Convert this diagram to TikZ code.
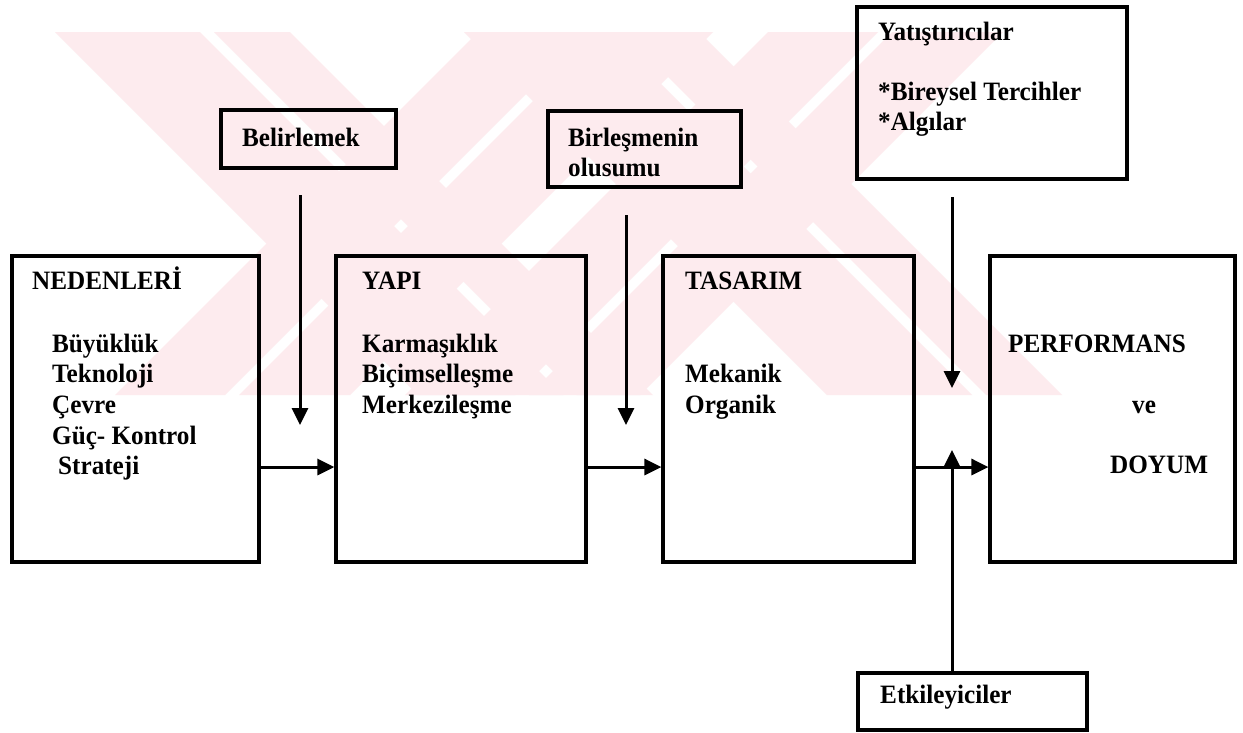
\documentclass[tikz,border=0pt]{standalone}
\usepackage{fontspec}
\setmainfont{Liberation Serif}[FakeStretch=0.95]
\usetikzlibrary{arrows.meta}
\definecolor{wmpink}{RGB}{253,235,238}
\tikzset{
  panel/.style={draw=black, line width=3.2pt, rectangle, inner sep=0pt},
  lbl/.style={anchor=base west, inner sep=0pt, font=\fontsize{26.5}{30}\selectfont\bfseries},
  flow/.style={line width=3pt, -{Triangle[length=17pt,width=16pt]}},
  band/.style={fill=wmpink, draw=none},
}
\begin{document}
\begin{tikzpicture}[x=1pt,y=-1pt]
\useasboundingbox (0,0) rectangle (1243,732);
\fill[white] (0,0) rectangle (1243,732);

% faint striped background mark
\fill[band] (55,32) -- (200,32) -- (563,395) -- (418,395) -- cycle;
\fill[band] (214,32) -- (290,32) -- (653,395) -- (577,395) -- cycle;
\fill[band] (478,32) -- (588,32) -- (225,395) -- (115,395) -- cycle;
\fill[band] (602,32) -- (713,32) -- (350,395) -- (239,395) -- cycle;
\fill[band] (464,32) -- (609,32) -- (972,395) -- (827,395) -- cycle;
\fill[band] (623,32) -- (699,32) -- (1062,395) -- (986,395) -- cycle;
\fill[band] (768,32) -- (878,32) -- (515,395) -- (405,395) -- cycle;
\fill[band] (892,32) -- (1003,32) -- (640,395) -- (529,395) -- cycle;

% main chain of boxes
\node[panel, minimum width=247pt, minimum height=306pt] (ned)  at (135.5,409) {};
\node[panel, minimum width=250pt, minimum height=306pt] (yapi) at (461,409) {};
\node[panel, minimum width=251pt, minimum height=306pt] (tas)  at (788.5,409) {};
\node[panel, minimum width=245pt, minimum height=306pt] (perf) at (1112.5,409) {};

% side boxes
\node[panel, minimum width=175pt, minimum height=58pt]  (bel) at (308.5,139) {};
\node[panel, minimum width=193pt, minimum height=76pt]  (bir) at (644.5,149) {};
\node[panel, minimum width=270pt, minimum height=172pt] (yat) at (992,93) {};
\node[panel, minimum width=229pt, minimum height=57pt]  (etk) at (972.5,701.5) {};

% texts
\node[lbl] (t-ned)  at (32,289)  {NEDENLER\.I};
\node[lbl] (t-ned1) at (52,352)  {Büyüklük};
\node[lbl] (t-ned2) at (52,382.5) {Teknoloji};
\node[lbl] (t-ned3) at (52,413)  {Çevre};
\node[lbl] (t-ned4) at (52,444)  {Güç- Kontrol};
\node[lbl] (t-ned5) at (58,474)  {Strateji};

\node[lbl] (t-yapi)  at (362,289) {YAPI};
\node[lbl] (t-yapi1) at (362,352) {Karmaşıklık};
\node[lbl] (t-yapi2) at (362,382.5) {Biçimselleşme};
\node[lbl] (t-yapi3) at (362,413) {Merkezileşme};

\node[lbl] (t-tas)  at (685,289) {TASARIM};
\node[lbl] (t-tas1) at (685,382.5) {Mekanik};
\node[lbl] (t-tas2) at (685,413) {Organik};

\node[lbl] (t-perf1) at (1008,352) {PERFORMANS};
\node[lbl] (t-perf2) at (1132,413) {ve};
\node[lbl] (t-perf3) at (1110,473) {DOYUM};

\node[lbl] (t-bel)  at (242,146) {Belirlemek};
\node[lbl] (t-bir1) at (568,146) {Birleşmenin};
\node[lbl] (t-bir2) at (568,176) {olusumu};

\node[lbl] (t-yat1) at (878,40)  {Yatıştırıcılar};
\node[lbl] (t-yat2) at (878,100) {*Bireysel Tercihler};
\node[lbl] (t-yat3) at (878,130) {*Algılar};

\node[lbl] (t-etk) at (880,703) {Etkileyiciler};

% connectors
\coordinate (hy) at (0,467);
\draw[flow] (ned.east |- hy) -- (yapi.west |- hy);
\draw[flow] (yapi.east |- hy) -- (tas.west |- hy);
\draw[flow] (tas.east |- hy) -- (perf.west |- hy);

\coordinate (belA) at (300,195);
\coordinate (belB) at (300,425);
\draw[flow] (belA) -- (belB);

\coordinate (birA) at (626,215);
\coordinate (birB) at (626,425);
\draw[flow] (birA) -- (birB);

\coordinate (yatA) at (952,197);
\coordinate (yatB) at (952,388);
\draw[flow] (yatA) -- (yatB);

\coordinate (etkB) at (952,450);
\draw[flow] (etk.north -| etkB) -- (etkB);
\end{tikzpicture}
\end{document}
